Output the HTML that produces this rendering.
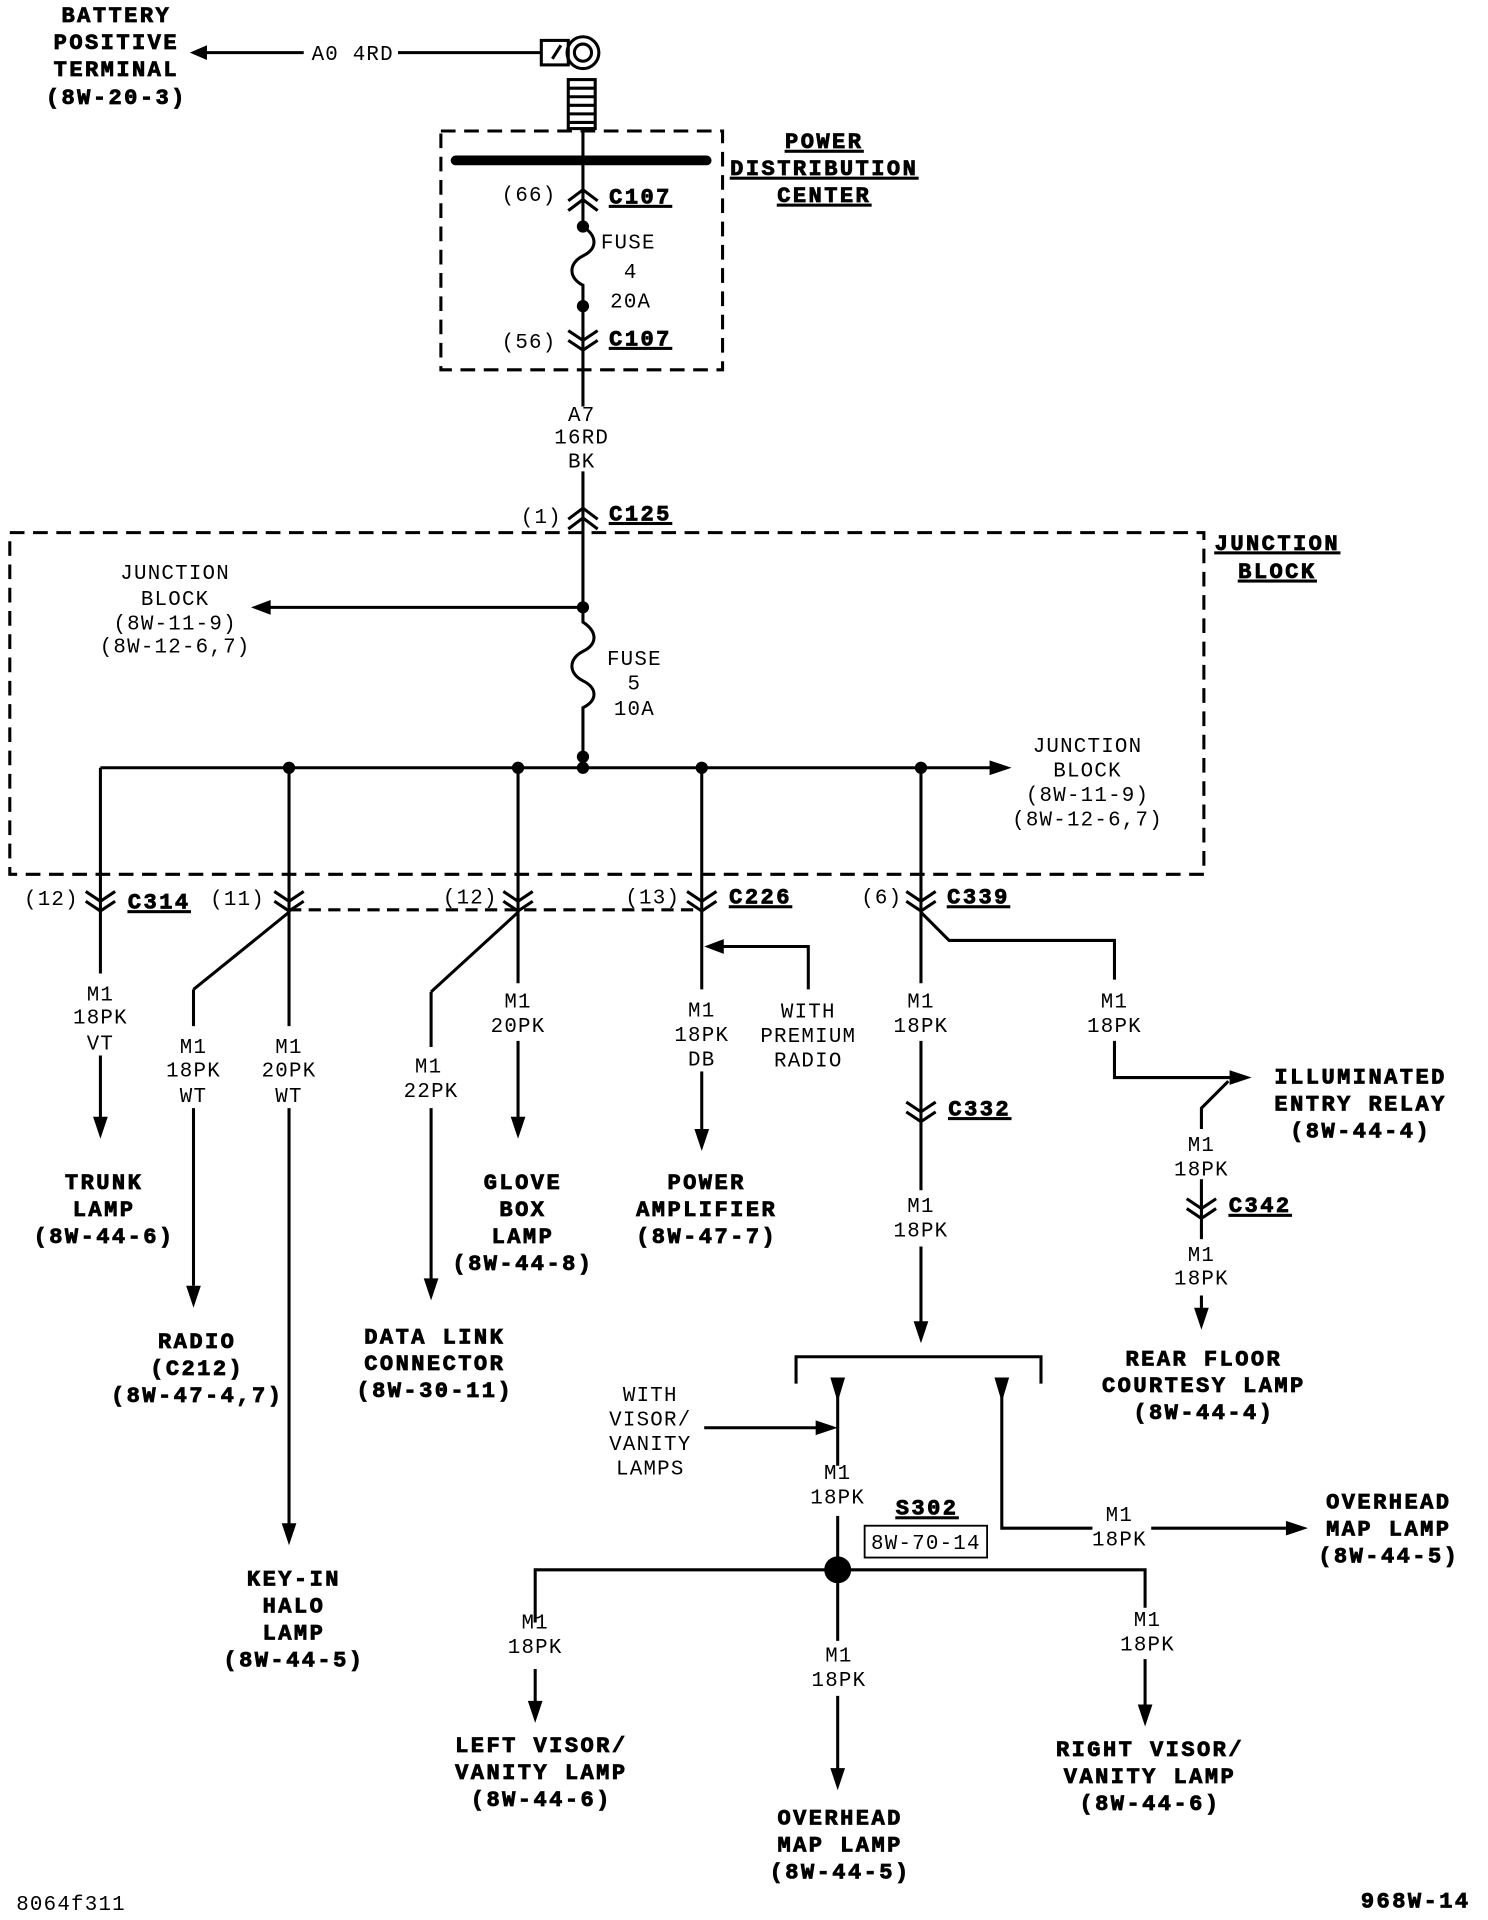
<!DOCTYPE html>
<html><head><meta charset="utf-8"><style>
html,body{margin:0;padding:0;background:#fff}
svg{display:block}
.b{font-family:"Liberation Mono",monospace;font-weight:bold;font-size:18px;letter-spacing:2px;text-anchor:middle;stroke:#000;stroke-width:0.7px}
.r{font-family:"Liberation Mono",monospace;font-size:17px;letter-spacing:1px;text-anchor:middle}
.u{text-decoration:underline}
</style></head><body>
<svg width="1488" height="1920" viewBox="0 0 1215 1568" preserveAspectRatio="none" xmlns="http://www.w3.org/2000/svg">
<g stroke="#000" stroke-width="2.5" fill="none">
<line x1="158" y1="43" x2="248" y2="43"/><line x1="325" y1="43" x2="442" y2="43"/>
<rect x="442" y="33" width="22" height="20"/><circle cx="476" cy="43" r="13"/><circle cx="476" cy="43" r="7"/>
<path d="M451 48 L458 37"/>
<rect x="464" y="65" width="22" height="40"/>
<path d="M464 72h22M464 79h22M464 86h22M464 93h22M464 100h22"/>
<rect x="360" y="107" width="230" height="195" stroke-dasharray="12,7"/>
<line x1="372" y1="131" x2="577" y2="131" stroke-width="8" stroke-linecap="round"/>
<line x1="476" y1="105" x2="476" y2="185"/>
<line x1="476" y1="250" x2="476" y2="332"/>
<path d="M476 185 c12 8 12 18 0 24 c-12 6 -12 18 0 24 l0 17"/>
<path d="M464 164l12-9 12 9M464 172l12-9 12 9"/>
<path d="M464 270l12 8 12-8M464 278l12 8 12-8"/>
<line x1="476" y1="385" x2="476" y2="496"/>
<path d="M464 424l12-9 12 9M464 432l12-9 12 9"/>
<rect x="8" y="435" width="975" height="279" stroke-dasharray="12,7"/>
<line x1="476" y1="496" x2="212" y2="496"/>
<path d="M476 496v12 c12 8 12 18 0 24 c-12 6 -12 18 0 24 c12 6 12 16 0 22 v40"/>
<line x1="82" y1="627" x2="810" y2="627"/>
<line x1="82" y1="627" x2="82" y2="795"/><line x1="82" y1="862" x2="82" y2="915"/>
<line x1="236" y1="627" x2="236" y2="838"/><line x1="236" y1="905" x2="236" y2="1245"/>
<line x1="236" y1="745" x2="158" y2="808"/><line x1="158" y1="808" x2="158" y2="838"/><line x1="158" y1="905" x2="158" y2="1050"/>
<line x1="423" y1="627" x2="423" y2="803"/><line x1="423" y1="850" x2="423" y2="915"/>
<line x1="423" y1="745" x2="352" y2="810"/><line x1="352" y1="810" x2="352" y2="855"/><line x1="352" y1="905" x2="352" y2="1045"/>
<line x1="573" y1="627" x2="573" y2="808"/><line x1="573" y1="875" x2="573" y2="925"/>
<path d="M660 808V773H590"/>
<line x1="752" y1="627" x2="752" y2="803"/><line x1="752" y1="850" x2="752" y2="972"/><line x1="752" y1="1018" x2="752" y2="1080"/>
<path d="M752 745 L775 768 H910 V800 M910 850 V880 H1005"/>
<path d="M981 922V905L1003 883"/>
<line x1="981" y1="963" x2="981" y2="1012"/><line x1="981" y1="1058" x2="981" y2="1070"/>
<line x1="236" y1="743" x2="573" y2="743" stroke-dasharray="10,6"/>
<path d="M70 728l12 8 12-8M70 736l12 8 12-8"/>
<path d="M224 728l12 8 12-8M224 736l12 8 12-8"/>
<path d="M411 728l12 8 12-8M411 736l12 8 12-8"/>
<path d="M561 728l12 8 12-8M561 736l12 8 12-8"/>
<path d="M740 728l12 8 12-8M740 736l12 8 12-8"/>
<path d="M740 900l12 8 12-8M740 908l12 8 12-8"/>
<path d="M969 979l12 8 12-8M969 987l12 8 12-8"/>
<path d="M650 1130V1108H850V1130"/>
<line x1="684" y1="1125" x2="684" y2="1197"/><line x1="684" y1="1238" x2="684" y2="1282"/>
<path d="M818 1125V1248H892M940 1248H1050"/>
<line x1="575" y1="1166" x2="670" y2="1166"/>
<path d="M437 1400V1363M437 1325V1282H935V1313M935 1355V1395"/>
<path d="M684 1282V1340M684 1385V1450"/>
<rect x="706" y="1246" width="100" height="26" stroke-width="1.5"/>
</g>
<g fill="#000">
<path d="M155 43l14-6v12z"/>
<path d="M205 496l16-6v12z"/>
<path d="M826 627l-18-6v12z"/>
<path d="M82 930l-6-18h12z"/><path d="M236 1262l-6-18h12z"/><path d="M158 1068l-6-18h12z"/>
<path d="M352 1062l-6-18h12z"/><path d="M423 930l-6-18h12z"/><path d="M573 940l-6-18h12z"/>
<path d="M575 773l16-6v12z"/><path d="M752 1097l-6-18h12z"/><path d="M1022 880l-18-6v12z"/>
<path d="M981 1086l-6-18h12z"/>
<path d="M684 1145l-6-20h12z"/><path d="M818 1145l-6-20h12z"/><path d="M684 1166l-18-6v12z"/>
<path d="M1068 1248l-18-6v12z"/>
<path d="M437 1407l-6-18h12z"/><path d="M684 1462l-6-18h12z"/><path d="M935 1410l-6-18h12z"/>
<circle cx="476" cy="185" r="5"/><circle cx="476" cy="250" r="5"/>
<circle cx="476" cy="496" r="5"/><circle cx="476" cy="618" r="5"/>
<circle cx="236" cy="627" r="5"/><circle cx="423" cy="627" r="5"/><circle cx="476" cy="627" r="5"/><circle cx="573" cy="627" r="5"/><circle cx="752" cy="627" r="5"/>
<circle cx="684" cy="1282" r="11"/>
</g>
<g>
<text class="b" x="95" y="18">BATTERY</text><text class="b" x="95" y="40">POSITIVE</text><text class="b" x="95" y="62">TERMINAL</text><text class="b" x="95" y="85">(8W-20-3)</text>
<text class="r" x="288" y="49">A0 4RD</text>
<text class="b u" x="673" y="121">POWER</text><text class="b u" x="673" y="143">DISTRIBUTION</text><text class="b u" x="673" y="165">CENTER</text>
<text class="r" x="432" y="164">(66)</text><text class="b u" x="523" y="166">C107</text>
<text class="r" x="513" y="203">FUSE</text><text class="r" x="515" y="227">4</text><text class="r" x="515" y="251">20A</text>
<text class="r" x="432" y="284">(56)</text><text class="b u" x="523" y="282">C107</text>
<text class="r" x="475" y="344">A7</text><text class="r" x="475" y="362">16RD</text><text class="r" x="475" y="382">BK</text>
<text class="r" x="442" y="427">(1)</text><text class="b u" x="523" y="425">C125</text>
<text class="b u" x="1043" y="449">JUNCTION</text><text class="b u" x="1043" y="472">BLOCK</text>
<text class="r" x="143" y="473">JUNCTION</text><text class="r" x="143" y="494">BLOCK</text><text class="r" x="143" y="514">(8W-11-9)</text><text class="r" x="143" y="533">(8W-12-6,7)</text>
<text class="r" x="518" y="543">FUSE</text><text class="r" x="518" y="563">5</text><text class="r" x="518" y="584">10A</text>
<text class="r" x="888" y="614">JUNCTION</text><text class="r" x="888" y="634">BLOCK</text><text class="r" x="888" y="654">(8W-11-9)</text><text class="r" x="888" y="674">(8W-12-6,7)</text>
<text class="r" x="42" y="739">(12)</text><text class="b u" x="130" y="742">C314</text>
<text class="r" x="194" y="739">(11)</text><text class="r" x="384" y="738">(12)</text>
<text class="r" x="533" y="738">(13)</text><text class="b u" x="621" y="738">C226</text>
<text class="r" x="720" y="738">(6)</text><text class="b u" x="799" y="738">C339</text>
<text class="r" x="82" y="817">M1</text><text class="r" x="82" y="836">18PK</text><text class="r" x="82" y="857">VT</text>
<text class="r" x="158" y="860">M1</text><text class="r" x="158" y="879">18PK</text><text class="r" x="158" y="900">WT</text>
<text class="r" x="236" y="860">M1</text><text class="r" x="236" y="879">20PK</text><text class="r" x="236" y="900">WT</text>
<text class="r" x="350" y="876">M1</text><text class="r" x="352" y="896">22PK</text>
<text class="r" x="423" y="823">M1</text><text class="r" x="423" y="843">20PK</text>
<text class="r" x="573" y="830">M1</text><text class="r" x="573" y="850">18PK</text><text class="r" x="573" y="870">DB</text>
<text class="r" x="660" y="831">WITH</text><text class="r" x="660" y="851">PREMIUM</text><text class="r" x="660" y="871">RADIO</text>
<text class="r" x="752" y="823">M1</text><text class="r" x="752" y="843">18PK</text>
<text class="r" x="910" y="823">M1</text><text class="r" x="910" y="843">18PK</text>
<text class="b u" x="800" y="911">C332</text>
<text class="r" x="752" y="990">M1</text><text class="r" x="752" y="1010">18PK</text>
<text class="b" x="1111" y="885">ILLUMINATED</text><text class="b" x="1111" y="907">ENTRY RELAY</text><text class="b" x="1111" y="929">(8W-44-4)</text>
<text class="r" x="981" y="940">M1</text><text class="r" x="981" y="960">18PK</text>
<text class="b u" x="1029" y="990">C342</text>
<text class="r" x="981" y="1030">M1</text><text class="r" x="981" y="1049">18PK</text>
<text class="b" x="85" y="971">TRUNK</text><text class="b" x="85" y="993">LAMP</text><text class="b" x="85" y="1015">(8W-44-6)</text>
<text class="b" x="427" y="971">GLOVE</text><text class="b" x="427" y="993">BOX</text><text class="b" x="427" y="1015">LAMP</text><text class="b" x="427" y="1037">(8W-44-8)</text>
<text class="b" x="577" y="971">POWER</text><text class="b" x="577" y="993">AMPLIFIER</text><text class="b" x="577" y="1015">(8W-47-7)</text>
<text class="b" x="161" y="1101">RADIO</text><text class="b" x="161" y="1123">(C212)</text><text class="b" x="161" y="1145">(8W-47-4,7)</text>
<text class="b" x="355" y="1097">DATA LINK</text><text class="b" x="355" y="1119">CONNECTOR</text><text class="b" x="355" y="1141">(8W-30-11)</text>
<text class="b" x="983" y="1115">REAR FLOOR</text><text class="b" x="983" y="1137">COURTESY LAMP</text><text class="b" x="983" y="1159">(8W-44-4)</text>
<text class="r" x="531" y="1144">WITH</text><text class="r" x="531" y="1164">VISOR/</text><text class="r" x="531" y="1184">VANITY</text><text class="r" x="531" y="1204">LAMPS</text>
<text class="r" x="684" y="1208">M1</text><text class="r" x="684" y="1228">18PK</text>
<text class="b u" x="757" y="1237">S302</text><text class="r" x="756" y="1265">8W-70-14</text>
<text class="r" x="914" y="1242">M1</text><text class="r" x="914" y="1262">18PK</text>
<text class="b" x="1134" y="1232">OVERHEAD</text><text class="b" x="1134" y="1254">MAP LAMP</text><text class="b" x="1134" y="1276">(8W-44-5)</text>
<text class="b" x="240" y="1295">KEY-IN</text><text class="b" x="240" y="1317">HALO</text><text class="b" x="240" y="1339">LAMP</text><text class="b" x="240" y="1361">(8W-44-5)</text>
<text class="r" x="437" y="1330">M1</text><text class="r" x="437" y="1350">18PK</text>
<text class="r" x="685" y="1357">M1</text><text class="r" x="685" y="1377">18PK</text>
<text class="r" x="937" y="1328">M1</text><text class="r" x="937" y="1348">18PK</text>
<text class="b" x="442" y="1431">LEFT VISOR/</text><text class="b" x="442" y="1453">VANITY LAMP</text><text class="b" x="442" y="1475">(8W-44-6)</text>
<text class="b" x="939" y="1434">RIGHT VISOR/</text><text class="b" x="939" y="1456">VANITY LAMP</text><text class="b" x="939" y="1478">(8W-44-6)</text>
<text class="b" x="686" y="1490">OVERHEAD</text><text class="b" x="686" y="1512">MAP LAMP</text><text class="b" x="686" y="1534">(8W-44-5)</text>
<text class="r" x="58" y="1560">8064f311</text>
<text class="b" x="1156" y="1558">968W-14</text>
</g>
</svg>
</body></html>
